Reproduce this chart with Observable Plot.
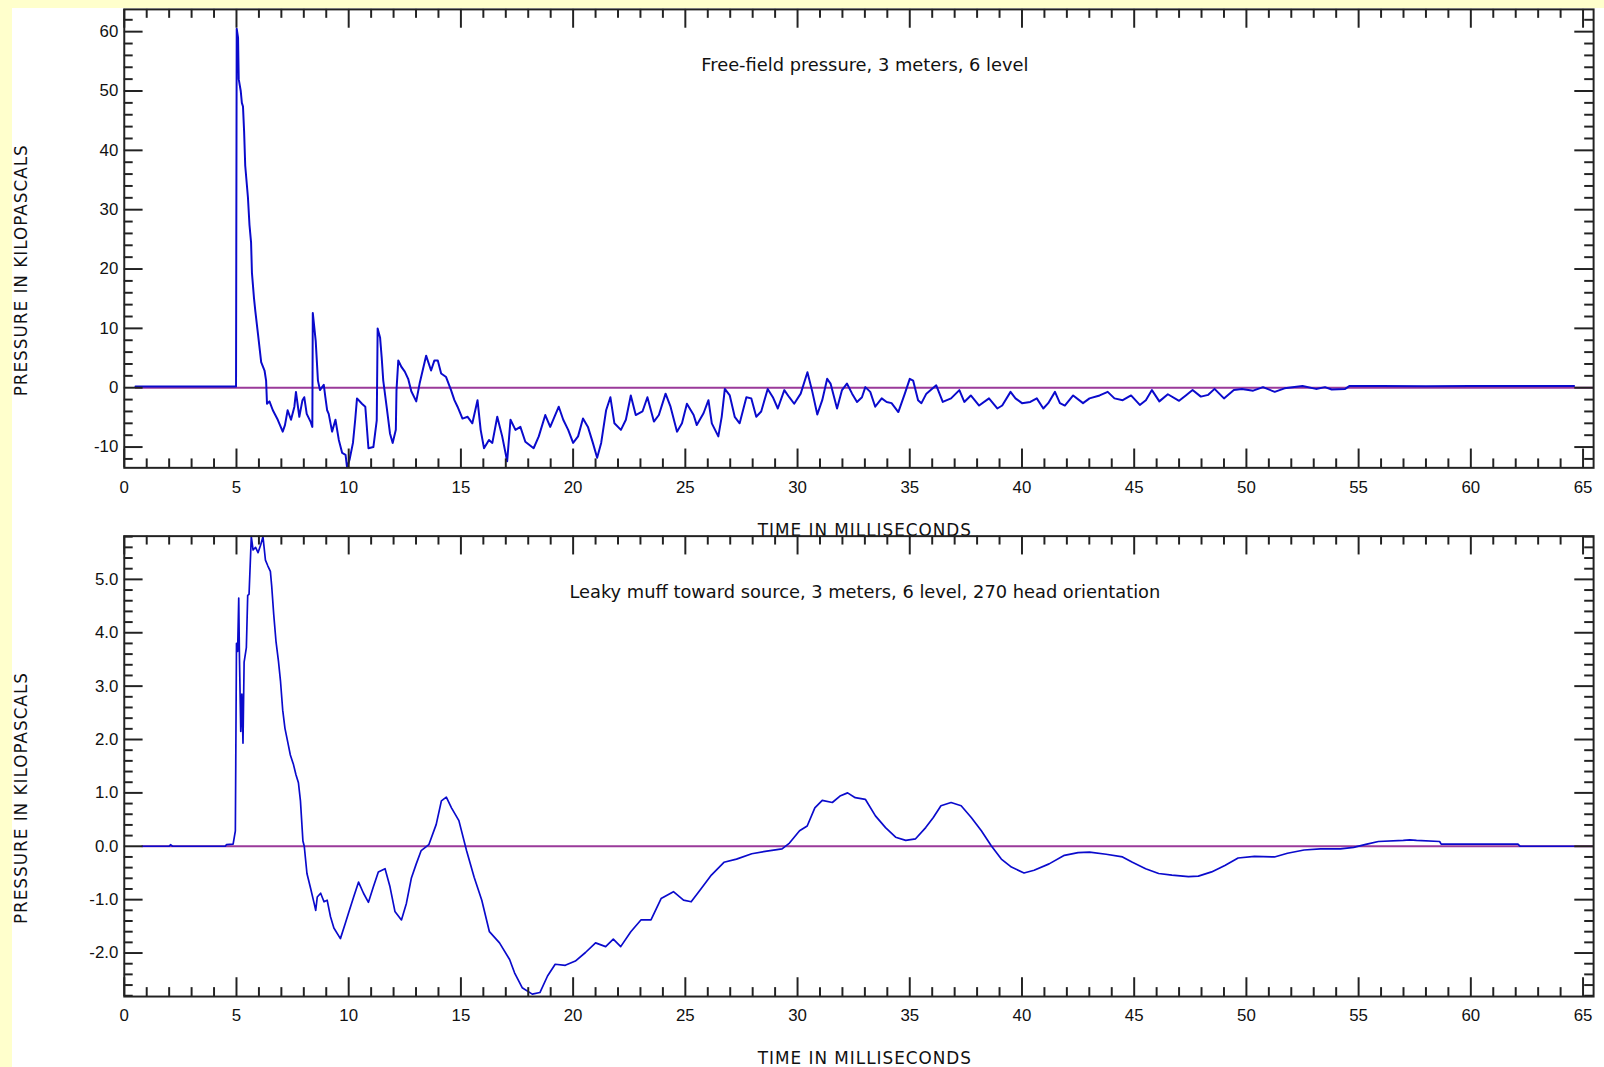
<!DOCTYPE html>
<html><head><meta charset="utf-8">
<script src="https://cdn.jsdelivr.net/npm/d3@7"></script>
<script src="https://cdn.jsdelivr.net/npm/@observablehq/plot@0.6"></script>
<style>
html,body{margin:0;padding:0;background:#fff;width:1604px;height:1067px;overflow:hidden;position:relative}
#xstrip{position:absolute;left:0;top:0;width:1604px;height:8px;background:#ffffcc}
#ystrip{position:absolute;left:0;top:0;width:12px;height:1067px;background:#ffffcc}
.panel{position:absolute;left:0}
</style></head><body>
<div id="xstrip"></div><div id="ystrip"></div>
<div id="top" class="panel" style="top:0"></div>
<div id="bottom" class="panel" style="top:500px"></div>
<script>
// ---------- data ----------
const freeTime = [0.5,4.98,5.01,5.07,5.10,5.19,5.24,5.29,5.34,5.39,5.51,5.58,5.65,5.69,5.78,5.84,5.96,6.10,6.25,6.32,6.36,6.47,6.62,6.84,7.06,7.16,7.28,7.43,7.58,7.65,7.80,7.94,8.02,8.13,8.31,8.38,8.40,8.53,8.63,8.72,8.89,8.96,9.04,9.11,9.26,9.41,9.56,9.71,9.86,9.93,10.04,10.19,10.29,10.37,10.59,10.74,10.88,11.10,11.25,11.29,11.40,11.47,11.54,11.69,11.84,11.96,12.10,12.13,12.21,12.35,12.50,12.65,12.79,13.01,13.16,13.45,13.67,13.82,13.97,14.12,14.34,14.56,14.71,14.85,15.07,15.30,15.51,15.74,15.88,16.03,16.25,16.40,16.62,16.84,17.06,17.21,17.43,17.65,17.87,18.24,18.47,18.76,18.98,19.36,19.56,19.78,20.00,20.22,20.44,20.66,20.88,21.07,21.25,21.47,21.66,21.84,22.13,22.35,22.57,22.79,23.09,23.31,23.60,23.82,24.12,24.34,24.63,24.85,25.07,25.37,25.51,25.81,26.03,26.18,26.47,26.62,26.76,26.98,27.20,27.42,27.72,27.94,28.16,28.38,28.67,28.90,29.12,29.41,29.63,29.85,30.14,30.44,30.66,30.88,31.10,31.32,31.47,31.76,31.98,32.20,32.43,32.65,32.87,33.02,33.24,33.46,33.75,33.97,34.19,34.49,34.78,35.00,35.15,35.37,35.52,35.74,36.18,36.47,36.84,37.21,37.43,37.72,38.09,38.53,38.90,39.12,39.49,39.71,40.00,40.37,40.66,40.95,41.17,41.47,41.69,41.91,42.28,42.72,43.01,43.46,43.82,44.12,44.49,44.86,45.25,45.52,45.79,46.12,46.50,47.00,47.30,47.60,47.97,48.30,48.58,49.00,49.44,49.80,50.30,50.74,51.26,51.70,52.50,53.10,53.50,53.80,54.40,54.60,56.00,58.00,60.00,62.00,64.60];
const freePressure = [0.2,0.2,60.5,59,52,50,48,47.4,43.2,37.4,32.1,27.4,24.5,19.3,15.1,12.9,9.0,4.3,2.9,1.2,-2.7,-2.3,-3.8,-5.4,-7.4,-6.3,-3.8,-5.4,-3.2,-0.7,-4.9,-2.1,-1.6,-4.4,-5.8,-6.6,12.6,7.9,1.2,-0.4,0.5,-1.6,-3.8,-4.4,-7.4,-5.4,-8.8,-11.0,-11.3,-13.5,-12.1,-9.3,-5.4,-1.8,-2.7,-3.2,-10.2,-10.0,-5.5,10.0,8.4,5.1,1.2,-3.2,-7.7,-9.3,-7.1,-0.4,4.6,3.5,2.7,1.5,-0.6,-2.3,0.7,5.4,2.9,4.6,4.6,2.4,1.8,-0.4,-2.1,-3.2,-5.2,-4.9,-6.0,-2.1,-7.1,-10.2,-8.8,-9.3,-4.9,-8.2,-12.4,-5.4,-7.1,-6.6,-9.1,-10.2,-8.2,-4.6,-6.6,-3.2,-5.4,-7.1,-9.3,-8.2,-5.2,-6.6,-9.3,-11.8,-9.3,-3.8,-1.6,-6.0,-7.1,-5.4,-1.3,-4.6,-4.0,-1.6,-5.7,-4.6,-1.0,-3.2,-7.4,-6.0,-2.7,-4.6,-6.3,-4.3,-2.1,-6.0,-8.2,-4.9,-0.2,-1.3,-4.9,-6.0,-1.6,-1.8,-4.9,-4.0,-0.2,-1.6,-3.5,-0.4,-1.6,-2.7,-1.0,2.6,-0.7,-4.5,-2.1,1.5,0.7,-3.5,-0.4,0.7,-1.0,-2.4,-1.6,0.1,-0.7,-3.2,-1.8,-2.4,-2.6,-4.1,-1.0,1.5,1.2,-2.1,-2.6,-1.0,0.4,-2.4,-1.8,-0.4,-2.4,-1.3,-3.0,-1.8,-3.5,-3.0,-0.7,-1.8,-2.6,-2.4,-1.8,-3.5,-2.6,-0.7,-2.6,-3.0,-1.3,-2.6,-1.8,-1.3,-0.7,-1.8,-2.1,-1.3,-2.9,-2.1,-0.4,-2.3,-1.1,-2.2,-1.3,-0.4,-1.5,-1.2,-0.2,-1.8,-0.4,-0.2,-0.5,0.1,-0.7,-0.1,0.3,-0.2,0.1,-0.3,-0.2,0.3,0.3,0.25,0.3,0.3,0.3];

const muffTime = [0.8,2.0,2.06,2.15,4.5,4.55,4.85,4.95,5.00,5.05,5.10,5.13,5.19,5.24,5.29,5.34,5.44,5.50,5.56,5.66,5.74,5.85,5.96,6.08,6.18,6.29,6.40,6.51,6.57,6.66,6.76,6.87,6.96,7.06,7.16,7.28,7.40,7.54,7.65,7.76,7.85,7.96,8.02,8.14,8.31,8.46,8.53,8.60,8.75,8.90,9.04,9.19,9.34,9.63,9.85,10.00,10.22,10.44,10.66,10.88,11.10,11.32,11.62,11.84,12.06,12.35,12.57,12.79,13.01,13.23,13.57,13.90,14.13,14.35,14.58,14.91,15.25,15.59,15.93,16.27,16.72,17.17,17.39,17.73,18.18,18.52,18.86,19.20,19.65,20.10,20.55,21.00,21.45,21.79,22.12,22.57,23.02,23.47,23.92,24.47,24.92,25.26,25.71,26.16,26.72,27.28,27.96,28.63,29.31,29.64,30.09,30.43,30.77,31.10,31.55,31.89,32.23,32.57,33.02,33.47,33.92,34.37,34.82,35.26,35.71,36.05,36.39,36.84,37.29,37.74,38.19,38.63,39.08,39.53,40.09,40.54,41.21,41.89,42.50,43.01,43.75,44.48,44.92,45.51,46.09,46.68,47.42,47.86,48.45,49.04,49.63,50.36,51.25,51.83,52.57,53.30,54.19,54.78,55.37,55.88,56.99,57.28,57.58,58.61,58.68,62.10,62.20,64.60];
const muffPressure = [0,0,0.03,0,0,0.03,0.04,0.29,3.8,3.65,4.65,3.6,2.15,2.85,1.93,3.45,3.72,4.7,4.72,5.8,5.55,5.6,5.5,5.65,5.8,5.36,5.25,5.15,4.87,4.34,3.84,3.47,3.1,2.55,2.21,1.96,1.71,1.53,1.34,1.19,0.85,0.1,0.0,-0.51,-0.8,-1.07,-1.2,-0.95,-0.88,-1.04,-1.01,-1.32,-1.53,-1.73,-1.44,-1.24,-0.95,-0.67,-0.88,-1.05,-0.76,-0.48,-0.42,-0.76,-1.22,-1.38,-1.07,-0.6,-0.33,-0.08,0.03,0.41,0.85,0.92,0.72,0.48,-0.08,-0.58,-1.01,-1.6,-1.81,-2.12,-2.37,-2.65,-2.77,-2.74,-2.43,-2.21,-2.23,-2.15,-1.99,-1.81,-1.88,-1.74,-1.88,-1.6,-1.38,-1.38,-0.98,-0.85,-1.01,-1.04,-0.79,-0.54,-0.3,-0.24,-0.14,-0.09,-0.05,0.06,0.29,0.38,0.72,0.86,0.82,0.94,1.0,0.91,0.88,0.57,0.35,0.17,0.11,0.14,0.35,0.54,0.76,0.82,0.76,0.54,0.29,0.01,-0.24,-0.39,-0.5,-0.45,-0.33,-0.17,-0.12,-0.11,-0.15,-0.2,-0.3,-0.42,-0.51,-0.54,-0.57,-0.56,-0.48,-0.36,-0.22,-0.19,-0.2,-0.13,-0.07,-0.05,-0.05,-0.02,0.04,0.09,0.11,0.12,0.11,0.09,0.04,0.04,0,0];

const xDomain = [0, 65.47];
const xMajor = [0,5,10,15,20,25,30,35,40,45,50,55,60,65];
const xMinor = d3.range(0, 66, 1).filter(d => d % 5 !== 0);

const freeYDomain = [-13.5, 63.75];
const freeYMajor = [-10,0,10,20,30,40,50,60];
const freeYMinor = d3.range(-12, 64, 2).filter(d => d % 10 !== 0);

const muffYDomain = [-2.815, 5.81];
const muffYMajor = [-2,-1,0,1,2,3,4,5];
const muffYMinor = d3.range(-2.8, 5.81, 0.2).map(d => +d.toFixed(1)).filter(d => Math.abs(d - Math.round(d)) > 0.01);

const freeTitle = "Free-field pressure, 3 meters, 6 level";
const muffTitle = "Leaky muff toward source, 3 meters, 6 level, 270 head orientation";
const xLabel = "TIME IN MILLISECONDS";
const yLabel = "PRESSURE IN KILOPASCALS";

// ---------- styles ----------
const BLUE = "#0a0acc";
const PURPLE = "#9a3a9a";
const AX = "#222";
const W = 1620, ML = 125, MR = 11;

function panel(o) {
  const FW = W - ML - MR, FH = o.height - o.mt - o.mb;
  const data = o.time.map((t, i) => ({t, p: o.pressure[i]}));
  const svg = Plot.plot({
    width: W, height: o.height,
    marginLeft: ML, marginRight: MR, marginTop: o.mt, marginBottom: o.mb,
    style: {background: "transparent", fontFamily: "'Liberation Sans', Arial, sans-serif", fontSize: "17px", color: "#111", overflow: "visible"},
    x: {domain: xDomain},
    y: {domain: o.yDomain},
    marks: [
      Plot.ruleY([0], {x1: d3.min(o.time), x2: xDomain[1], stroke: PURPLE, strokeWidth: 2}),
      Plot.line(data, {x: "t", y: "p", stroke: BLUE, strokeWidth: o.lw, clip: true}),
      // inward ticks, bottom & top
      Plot.ruleX(xMinor, {x: d => d, insetTop: FH - 9, stroke: AX, strokeWidth: 2}),
      Plot.ruleX(xMajor, {x: d => d, insetTop: FH - 19, stroke: AX, strokeWidth: 2}),
      Plot.ruleX(xMinor, {x: d => d, insetBottom: FH - 9, stroke: AX, strokeWidth: 2}),
      Plot.ruleX(xMajor, {x: d => d, insetBottom: FH - 19, stroke: AX, strokeWidth: 2}),
      // inward ticks, left & right
      Plot.ruleY(o.yMinor, {y: d => d, insetRight: FW - 9, stroke: AX, strokeWidth: 2}),
      Plot.ruleY(o.yMajor, {y: d => d, insetRight: FW - 19, stroke: AX, strokeWidth: 2}),
      Plot.ruleY(o.yMinor, {y: d => d, insetLeft: FW - 9, stroke: AX, strokeWidth: 2}),
      Plot.ruleY(o.yMajor, {y: d => d, insetLeft: FW - 19, stroke: AX, strokeWidth: 2}),
      Plot.frame({stroke: AX, strokeWidth: 2}),
      Plot.axisX(xMajor, {anchor: "bottom", tickSize: 0, tickPadding: 13, tickFormat: d => String(d), label: null}),
      Plot.axisY(o.yMajor, {anchor: "left", tickSize: 0, tickPadding: 6, tickFormat: o.fmt, label: null}),
      Plot.text([o.title], {text: d => d, frameAnchor: "top", dx: 6, dy: o.subDy, fontSize: 18, fontFamily: "DejaVu Sans", fill: "#111"}),
      Plot.text([xLabel], {text: d => d, frameAnchor: "bottom", dx: 6, dy: o.xlDy, fontSize: 17, fontFamily: "DejaVu Sans", fill: "#111"}),
      Plot.text([yLabel], {text: d => d, frameAnchor: "left", textAnchor: "middle", lineAnchor: "middle", rotate: -90, dx: -104, dy: 32, fontSize: 17, fontFamily: "DejaVu Sans", fill: "#111"})
    ]
  });
  d3.select(svg).selectAll("text").filter(function() {
    return this.textContent === xLabel || this.textContent === yLabel;
  }).attr("letter-spacing", "1px");
  return svg;
}

document.getElementById("top").appendChild(panel({
  time: freeTime, pressure: freePressure, yDomain: freeYDomain,
  yMajor: freeYMajor, yMinor: freeYMinor, fmt: d => String(d),
  title: freeTitle, height: 536, mt: 9, mb: 64, subDy: 49, xlDy: 69, lw: 2
}));
document.getElementById("bottom").appendChild(panel({
  time: muffTime, pressure: muffPressure, yDomain: muffYDomain,
  yMajor: muffYMajor, yMinor: muffYMinor, fmt: d => d.toFixed(1),
  title: muffTitle, height: 567, mt: 36, mb: 66, subDy: 50, xlDy: 68, lw: 1.7
}));
</script></body></html>
